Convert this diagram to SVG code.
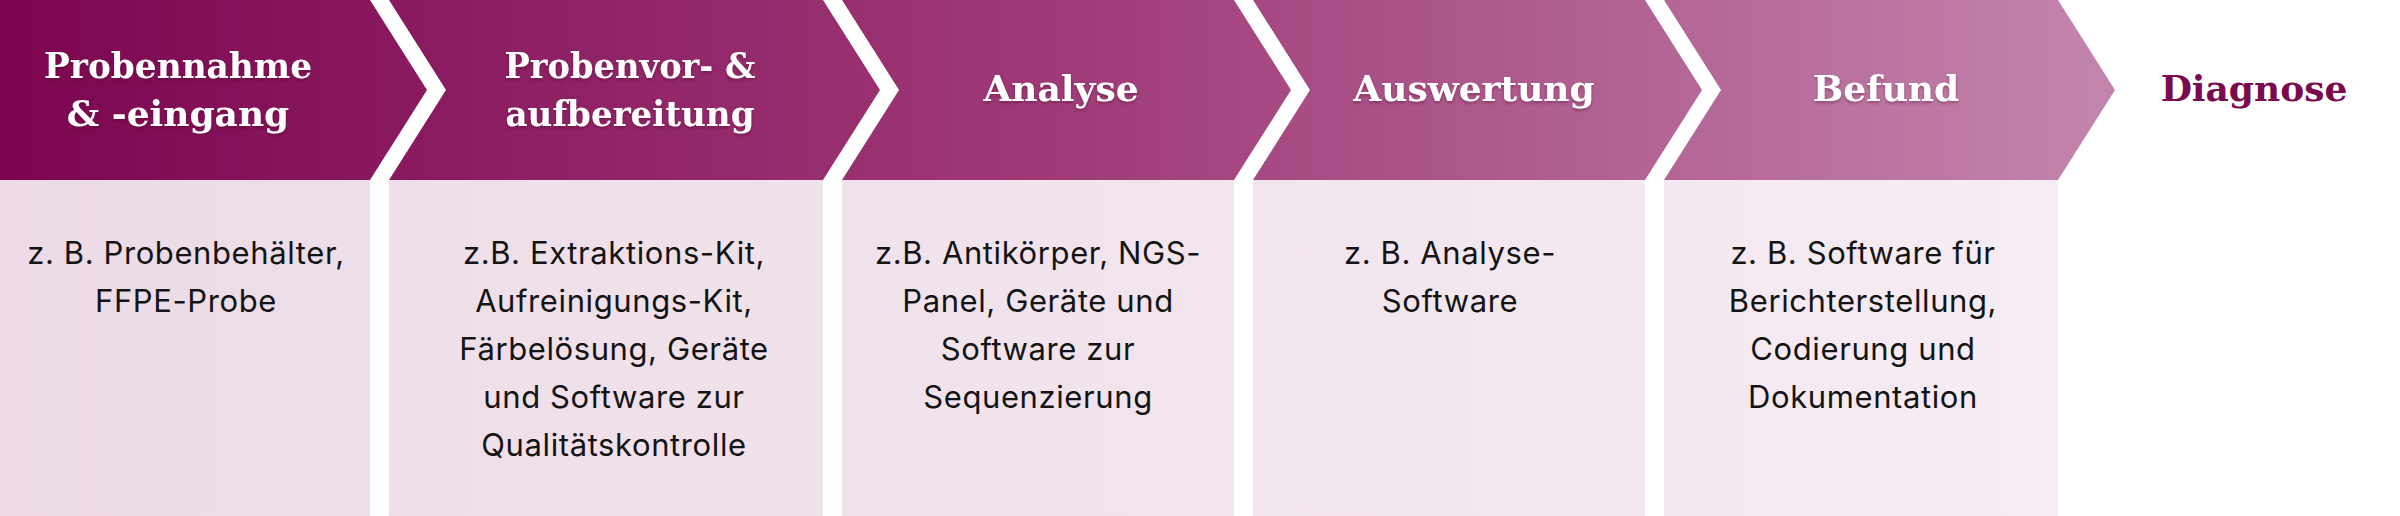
<svg xmlns="http://www.w3.org/2000/svg" width="2400" height="516" viewBox="0 0 2400 516">
  <defs>
    <linearGradient id="hdr" gradientUnits="userSpaceOnUse" x1="0" y1="0" x2="2115" y2="0">
      <stop offset="0" stop-color="#7c0550"/>
      <stop offset="0.5" stop-color="#9f3a77"/>
      <stop offset="1" stop-color="#c385ad"/>
    </linearGradient>
    <linearGradient id="bdy" gradientUnits="userSpaceOnUse" x1="0" y1="0" x2="2058" y2="0">
      <stop offset="0" stop-color="#ecdbe6"/>
      <stop offset="1" stop-color="#f6ecf3"/>
    </linearGradient>
    <filter id="sh" x="-10%" y="-20%" width="120%" height="150%">
      <feDropShadow dx="0" dy="2" stdDeviation="1.5" flood-color="#3a0024" flood-opacity="0.35"/>
    </filter>
  </defs>
  <style>
    .hdr { fill: url(#hdr); }
    .bdy { fill: url(#bdy); }
    .ht { font-family: "DejaVu Serif", "Liberation Serif", serif; font-weight: bold; font-size: 36px; fill: #ffffff; text-anchor: middle; filter: url(#sh); }
    .bt { font-family: Inter, "Noto Sans", "Liberation Sans", sans-serif; font-size: 31px; letter-spacing: 0.6px; fill: #141414; text-anchor: middle; }
    .dx { font-family: "DejaVu Serif", "Liberation Serif", serif; font-weight: bold; font-size: 36px; fill: #7a0a4e; text-anchor: middle; }
  </style>
  <rect x="0" y="0" width="2400" height="516" fill="#ffffff"/>

  <g id="node-probennahme">
    <path class="hdr" d="M0,0 L370,0 L427,90 L370,180 L0,180 Z"/>
    <rect class="bdy" x="0" y="180" width="370" height="336"/>
    <text class="ht" x="178" y="78" textLength="268" lengthAdjust="spacingAndGlyphs">Probennahme</text>
    <text class="ht" x="178" y="126">&amp; -eingang</text>
    <text class="bt" x="186" y="264">z. B. Probenbehälter,</text>
    <text class="bt" x="186" y="312">FFPE-Probe</text>
  </g>

  <g id="node-probenvorbereitung">
    <path class="hdr" d="M389,0 L823,0 L880,90 L823,180 L389,180 L446,90 Z"/>
    <rect class="bdy" x="389" y="180" width="434" height="336"/>
    <text class="ht" x="630" y="78" textLength="251" lengthAdjust="spacingAndGlyphs">Probenvor- &amp;</text>
    <text class="ht" x="630" y="126" textLength="249" lengthAdjust="spacingAndGlyphs">aufbereitung</text>
    <text class="bt" x="614" y="264">z.B. Extraktions-Kit,</text>
    <text class="bt" x="614" y="312">Aufreinigungs-Kit,</text>
    <text class="bt" x="614" y="360">Färbelösung, Geräte</text>
    <text class="bt" x="614" y="408">und Software zur</text>
    <text class="bt" x="614" y="456">Qualitätskontrolle</text>
  </g>

  <g id="node-analyse">
    <path class="hdr" d="M842,0 L1234,0 L1291,90 L1234,180 L842,180 L899,90 Z"/>
    <rect class="bdy" x="842" y="180" width="392" height="336"/>
    <text class="ht" x="1061" y="101">Analyse</text>
    <text class="bt" x="1038" y="264">z.B. Antikörper, NGS-</text>
    <text class="bt" x="1038" y="312">Panel, Geräte und</text>
    <text class="bt" x="1038" y="360">Software zur</text>
    <text class="bt" x="1038" y="408">Sequenzierung</text>
  </g>

  <g id="node-auswertung">
    <path class="hdr" d="M1253,0 L1645,0 L1702,90 L1645,180 L1253,180 L1310,90 Z"/>
    <rect class="bdy" x="1253" y="180" width="392" height="336"/>
    <text class="ht" x="1474" y="101">Auswertung</text>
    <text class="bt" x="1450" y="264">z. B. Analyse-</text>
    <text class="bt" x="1450" y="312">Software</text>
  </g>

  <g id="node-befund">
    <path class="hdr" d="M1664,0 L2058,0 L2115,90 L2058,180 L1664,180 L1721,90 Z"/>
    <rect class="bdy" x="1664" y="180" width="394" height="336"/>
    <text class="ht" x="1886" y="101">Befund</text>
    <text class="bt" x="1863" y="264">z. B. Software für</text>
    <text class="bt" x="1863" y="312">Berichterstellung,</text>
    <text class="bt" x="1863" y="360">Codierung und</text>
    <text class="bt" x="1863" y="408">Dokumentation</text>
  </g>

  <g id="node-diagnose">
    <text class="dx" x="2254" y="101">Diagnose</text>
  </g>

  <g id="connectors"></g>
</svg>
